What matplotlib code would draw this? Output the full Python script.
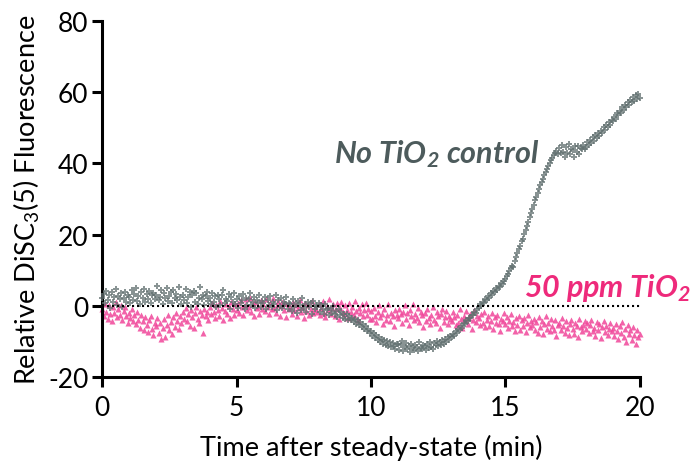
import numpy as np
import matplotlib
matplotlib.use("Agg")
import matplotlib.pyplot as plt

plt.rcParams['font.family'] = ['Lato', 'DejaVu Sans']
plt.rcParams['mathtext.default'] = 'regular'
plt.rcParams['axes.unicode_minus'] = False

# time step between readings (min)
step = 0.05

control = [
    2.1, 3.4, 0.8, 4.2, 1.5, 2.9, -0.6, 3.8, 1.2, 2.4, 4.6, 0.3, 2.7, 1.9, 3.5, -0.2, 2.2, 4.0, 1.1, 3.1,
    2.6, 0.9, 4.4, 1.7, 3.2, 5.1, 1.4, 2.8, 0.5, 3.9, 2.3, 4.8, 1.0, 3.3, 2.0, 4.1, 0.7, 2.9, 3.6, 1.8,
    3.0, 5.6, 1.6, 2.4, 4.3, 0.6, 3.7, 2.1, 5.0, 1.3, 2.7, 3.9, 0.9, 4.5, 2.2, 3.4, 1.5, 5.3, 2.6, 0.4,
    3.1, 1.7, 4.6, 0.8, 2.5, 3.8, -0.3, 2.9, 4.2, 1.2, 3.5, 0.6, 2.3, 5.2, 1.9, 3.0, 0.2, 2.8, 4.0, 1.4,
    2.2, 0.5, 3.6, 1.1, 2.7, -0.4, 3.1, 1.8, 0.2, 2.9, 4.3, 0.9, 2.0, 1.4, 3.3, -0.8, 2.4, 1.0, 3.7, 0.6,
    1.9, -0.5, 2.8, 0.7, 1.5, 3.2, -0.9, 2.1, 0.3, 1.8, 3.5, 0.1, 1.2, 2.6, -0.6, 1.6, 0.8, 2.9, -0.2, 1.3,
    0.9, 2.4, -1.0, 1.5, 0.2, 2.8, -0.4, 1.1, 0.6, 3.0, -1.3, 1.7, 0.0, 2.2, -0.7, 1.2, 0.4, 2.5, -0.9, 0.8,
    0.6, -1.5, 1.9, -0.3, 0.9, -2.0, 1.4, 0.1, -1.1, 2.1, -0.6, 0.4, -1.8, 1.0, -0.2, 0.7, -2.3, 1.3, -0.8, 0.2,
    -0.4, 0.9, -1.6, 0.3, -1.0, -2.4, 0.5, -1.3, -0.5, -2.7, -0.9, -1.9, 0.0, -2.3, -1.4, -3.1, -1.0, -2.6, -1.8, -3.4,
    -2.2, -3.6, -2.4, -3.9, -2.8, -4.1, -3.3, -4.6, -3.7, -5.0, -4.0, -5.4, -4.6, -6.0, -5.1, -6.5, -5.8, -7.1, -6.4, -7.6,
    -7.0, -8.4, -7.7, -9.1, -8.3, -9.6, -8.8, -10.2, -9.3, -10.6, -9.7, -11.0, -10.0, -11.4, -10.3, -11.7, -10.5, -11.2, -12.0, -10.8,
    -10.8, -12.4, -11.1, -9.9, -12.7, -11.5, -10.4, -12.1, -11.3, -13.0, -10.6, -11.9, -12.5, -10.9, -11.6, -12.8, -10.3, -11.8, -12.2, -11.0,
    -11.4, -12.3, -10.7, -11.8, -10.2, -11.6, -12.1, -10.5, -11.0, -9.8, -11.3, -10.1, -10.9, -9.5, -10.6, -9.2, -10.3, -8.8, -9.7, -8.5,
    -8.9, -7.9, -8.4, -7.2, -7.6, -6.5, -6.9, -5.8, -6.1, -4.9, -5.2, -4.1, -4.3, -3.3, -3.5, -2.5, -2.7, -1.6, -1.9, -0.9,
    -0.7, 0.4, 0.0, 1.2, 0.8, 2.0, 1.5, 2.7, 2.3, 3.5, 3.0, 4.1, 3.8, 4.9, 4.4, 5.6, 5.2, 6.4, 6.0, 7.1,
    7.6, 8.4, 9.0, 9.7, 10.5, 11.3, 11.0, 12.6, 13.8, 14.7, 16.0, 16.9, 18.1, 18.9, 20.3, 21.2, 22.5, 23.6, 24.9, 26.0,
    27.2, 28.4, 29.6, 30.6, 31.7, 32.8, 33.9, 34.9, 35.7, 36.8, 37.5, 38.5, 39.3, 40.1, 40.9, 41.6, 42.3, 43.0, 43.5, 42.7,
    44.2, 42.9, 45.1, 43.3, 41.8, 44.6, 43.0, 45.5, 42.5, 44.0, 43.7, 41.9, 44.8, 43.2, 45.0, 42.6, 44.3, 43.9, 45.3, 44.1,
    44.7, 45.9, 45.2, 46.6, 45.8, 47.3, 46.4, 47.9, 47.0, 48.6, 47.8, 49.2, 48.5, 50.1, 49.4, 50.8, 50.2, 51.5, 50.9, 52.3,
    51.8, 53.0, 52.6, 54.1, 53.5, 54.8, 54.2, 55.7, 55.0, 56.4, 55.9, 57.2, 56.5, 57.8, 57.1, 58.5, 57.6, 59.1, 58.2, 59.6,
    58.4,
]

tio2_50ppm = [
    -0.8, -2.9, 0.6, -1.7, -3.6, 0.1, -2.2, -4.3, -0.4, -1.9, 1.2, -3.1, -1.0, -2.6, 0.3, -3.9, -1.4, -0.2, -2.8, -4.7,
    -2.1, -3.5, -0.9, -4.2, -2.7, -5.0, -1.8, -3.9, -6.1, -2.5, -4.4, -6.8, -3.2, -5.5, -7.3, -4.1, -2.9, -6.4, -8.2, -4.8,
    -5.7, -3.4, -7.6, -4.9, -9.4, -6.2, -3.8, -8.7, -5.3, -2.6, -6.9, -4.5, -7.8, -3.1, -5.9, -1.9, -4.2, -6.5, -2.8, -4.9,
    -1.6, -3.8, -0.5, -4.4, -2.3, -5.7, -1.1, -3.2, -6.3, -2.0, -0.2, -3.6, -4.9, -1.4, -2.7, -7.5, -0.8, -3.0, -1.8, -4.1,
    -0.3, -2.4, 0.9, -1.8, -3.3, 0.2, -1.2, -2.9, 1.4, -0.7, -4.0, -1.5, 0.5, -2.2, -0.1, -3.5, 1.0, -1.0, -2.6, 0.4,
    -1.3, 0.8, -2.1, 1.5, -0.4, -2.7, 0.3, 1.9, -1.1, -0.2, 2.2, -1.7, 0.6, -3.0, 1.1, -0.6, 0.0, -2.3, 1.7, -0.9,
    0.4, -1.5, 1.8, -0.3, -2.4, 0.9, -1.0, 2.3, -0.7, -1.9, 0.2, 1.4, -2.8, -0.1, 1.0, -1.3, 0.7, -3.2, 0.5, -0.8,
    -0.2, -2.3, 1.1, -1.2, 0.3, -2.9, -0.6, 1.6, -1.8, -0.4, -3.4, 0.8, -1.5, 0.1, -2.6, -0.9, 1.3, -2.0, -0.3, -1.1,
    -1.7, 0.5, -2.5, -0.6, 1.4, -1.9, -3.1, 0.0, -1.3, 1.9, -2.2, -0.7, 0.6, -2.8, -1.0, 0.9, -3.6, -0.5, 1.2, -1.6,
    -2.3, 0.2, -1.2, -3.4, 0.9, -1.8, -0.3, -2.7, 1.3, -1.5, -4.0, -0.6, -2.1, 0.5, -3.0, -1.1, 0.8, -2.5, -0.9, -3.7,
    -1.4, -3.6, -0.5, -2.8, -4.5, -1.7, 0.1, -3.2, -2.2, -5.1, -1.0, -3.9, -2.5, 0.4, -4.3, -1.9, -3.0, -5.6, -1.3, -2.7,
    -3.3, -0.9, -2.4, -4.8, -1.6, 0.2, -3.7, -2.0, -5.3, -1.2, -2.9, 0.5, -4.1, -2.2, -3.5, -0.7, -4.6, -1.8, -2.6, -6.0,
    -2.1, -4.4, -1.0, -3.3, -5.2, -2.6, -0.4, -3.9, -4.8, -1.7, -3.0, -6.1, -2.3, -0.8, -4.5, -3.2, -1.4, -5.0, -2.8, -3.7,
    -4.2, -1.8, -3.1, -5.5, -2.5, -4.7, -0.9, -3.6, -6.2, -2.9, -4.0, -1.5, -5.1, -3.3, -2.2, -6.6, -3.9, -1.2, -4.6, -3.0,
    -3.5, -5.4, -2.3, -4.8, -1.6, -6.0, -3.9, -2.8, -5.7, -4.3, -1.9, -6.5, -3.2, -4.9, -2.6, -5.2, -7.0, -3.7, -4.4, -2.0,
    -5.0, -3.1, -6.3, -4.2, -2.4, -5.8, -4.6, -7.1, -3.5, -5.3, -2.8, -6.7, -4.0, -5.6, -3.3, -7.4, -4.8, -2.7, -6.0, -4.4,
    -5.5, -3.8, -6.8, -4.6, -7.5, -3.2, -5.9, -4.3, -8.0, -5.1, -2.9, -6.4, -4.8, -7.2, -3.6, -5.7, -6.9, -4.0, -8.4, -5.3,
    -4.7, -6.9, -3.5, -5.8, -7.6, -4.4, -6.2, -8.3, -5.0, -3.9, -6.6, -7.9, -4.9, -5.6, -8.8, -3.7, -6.0, -7.2, -5.3, -4.2,
    -6.4, -4.8, -7.7, -5.5, -3.9, -7.0, -6.1, -8.6, -4.6, -6.8, -5.2, -9.0, -6.0, -4.3, -7.4, -5.7, -8.1, -6.5, -4.9, -7.2,
    -6.2, -8.4, -5.0, -7.1, -9.3, -5.8, -7.7, -4.6, -8.8, -6.6, -10.1, -5.4, -7.9, -6.9, -9.6, -5.9, -8.2, -10.8, -6.7, -8.9,
    -7.8,
]

x_ticks = [0, 5, 10, 15, 20]
y_ticks = [-20, 0, 20, 40, 60, 80]

t_control = np.arange(len(control)) * step
t_tio2 = np.arange(len(tio2_50ppm)) * step

GREY = '#627070'
GREY_TXT = '#4d5b5c'
PINK = '#f0479a'
PINK_TXT = '#ee2a7b'

fig = plt.figure(figsize=(7.0, 4.77), dpi=100)
ax = fig.add_axes([0.146, 0.2075, 0.768, 0.7465])

ax.scatter(t_control, control, marker='P', s=18, color=GREY, alpha=0.75,
           linewidths=0, zorder=3, clip_on=False)
ax.scatter(t_tio2, tio2_50ppm, marker='^', s=19, color=PINK, alpha=0.85,
           linewidths=0, zorder=2, clip_on=False)

ax.plot([0, 20], [0, 0], linestyle=(0, (1, 1.4)), color='black', linewidth=1.5, zorder=4)

ax.set_xlim(0, 20)
ax.set_ylim(-20, 80)
ax.set_xticks(x_ticks)
ax.set_yticks(y_ticks)

for s in ['top', 'right']:
    ax.spines[s].set_visible(False)
for s in ['left', 'bottom']:
    ax.spines[s].set_linewidth(2.2)
    ax.spines[s].set_color('black')
ax.tick_params(axis='both', which='major', direction='out', length=7, width=2.2,
               labelsize=19, colors='black')
ax.tick_params(axis='x', pad=6)
ax.tick_params(axis='y', pad=3)

ax.set_xlabel('Time after steady-state (min)', fontsize=19.5, labelpad=10)
ax.set_ylabel('Relative DiSC$_3$(5) Fluorescence', fontsize=19.5, labelpad=4)

ax.text(16.25, 43, 'No TiO$_2$ control', color=GREY_TXT, fontsize=22,
        fontweight='bold', fontstyle='italic', ha='right', va='center')
ax.text(15.7, 2.75, '50 ppm TiO$_2$', color=PINK_TXT, fontsize=22,
        fontweight='bold', fontstyle='italic', ha='left', va='baseline', clip_on=False)

fig.savefig('out.png', dpi=100)
